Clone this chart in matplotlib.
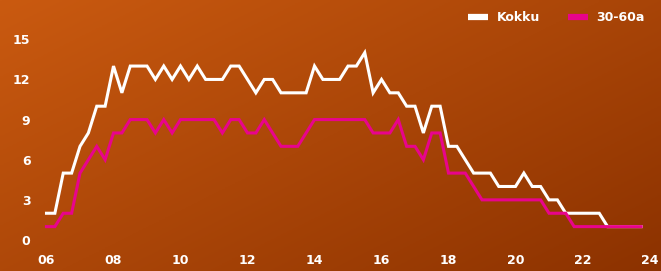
import numpy as np
import matplotlib
matplotlib.use("Agg")
import matplotlib.pyplot as plt
from matplotlib.lines import Line2D

# Data: quarter-hour samples from 06:00 to 23:45
start_hour = 6.0
step_hours = 0.25
kokku = [2, 2, 5, 5, 7, 8, 10, 10, 13, 11, 13, 13, 13, 12, 13, 12, 13, 12, 13, 12,
         12, 12, 13, 13, 12, 11, 12, 12, 11, 11, 11, 11, 13, 12, 12, 12, 13, 13, 14, 11,
         12, 11, 11, 10, 10, 8, 10, 10, 7, 7, 6, 5, 5, 5, 4, 4, 4, 5, 4, 4,
         3, 3, 2, 2, 2, 2, 2, 1, 1, 1, 1, 1]
age_30_60 = [1, 1, 2, 2, 5, 6, 7, 6, 8, 8, 9, 9, 9, 8, 9, 8, 9, 9, 9, 9,
             9, 8, 9, 9, 8, 8, 9, 8, 7, 7, 7, 8, 9, 9, 9, 9, 9, 9, 9, 8,
             8, 8, 9, 7, 7, 6, 8, 8, 5, 5, 5, 4, 3, 3, 3, 3, 3, 3, 3, 3,
             2, 2, 2, 1, 1, 1, 1, 1, 1, 1, 1, 1]
hours = start_hour + step_hours * np.arange(len(kokku))
x_ticks = [6, 8, 10, 12, 14, 16, 18, 20, 22, 24]
x_tick_labels = ["06", "08", "10", "12", "14", "16", "18", "20", "22", "24"]
y_ticks = [0, 3, 6, 9, 12, 15]
series_names = ["Kokku", "30-60a"]
series_colors = ["#ffffff", "#e8048c"]

W, H = 661, 271
fig = plt.figure(figsize=(W / 100, H / 100), dpi=100)

# background gradient
bg = fig.add_axes([0, 0, 1, 1])
gx, gy = np.meshgrid(np.linspace(0, 1, 200), np.linspace(0, 1, 100))
t = np.clip(0.55 * gx + 0.45 * gy, 0, 1)
c0 = np.array([202, 90, 16]) / 255.0
c1 = np.array([140, 50, 0]) / 255.0
img = c0[None, None, :] * (1 - t[..., None]) + c1[None, None, :] * t[..., None]
bg.imshow(img, aspect="auto", extent=[0, 1, 0, 1], origin="upper")
bg.axis("off")

left_px, right_px, top_px, bottom_px = 36, 655, 25, 248
ax = fig.add_axes([left_px / W, 1 - bottom_px / H, (right_px - left_px) / W, (bottom_px - top_px) / H])
ax.patch.set_alpha(0)
pph = 33.5
ax.set_xlim(6 - (46.5 - left_px) / pph, 24 + (right_px - 649.5) / pph)
ppu = 13.38
ax.set_ylim(-(bottom_px - 240) / ppu, 15 + (39.3 - top_px) / ppu)

ax.plot(hours, kokku, color=series_colors[0], lw=2.2, solid_joinstyle="miter", zorder=3)
ax.plot(hours, age_30_60, color=series_colors[1], lw=2.2, solid_joinstyle="miter", zorder=4)

for s in ax.spines.values():
    s.set_visible(False)
ax.set_xticks(x_ticks)
ax.set_xticklabels(x_tick_labels)
ax.set_yticks(y_ticks)
ax.tick_params(length=0, colors="white", labelsize=9)
ax.tick_params(axis="y", pad=4)
ax.tick_params(axis="x", pad=4)
for lab in ax.get_xticklabels() + ax.get_yticklabels():
    lab.set_fontweight("bold")
    lab.set_color("white")

handles = [Line2D([0], [0], color=c, lw=4.5, solid_capstyle="butt") for c in series_colors]
leg = fig.legend(handles, series_names, loc="upper right", bbox_to_anchor=(656 / W, 1 - 0 / H),
                 ncol=2, frameon=False, handlelength=1.6, handletextpad=0.7, columnspacing=2.2,
                 prop={"weight": "bold", "size": 9})
for txt in leg.get_texts():
    txt.set_color("white")

fig.savefig("out.png", dpi=100)
